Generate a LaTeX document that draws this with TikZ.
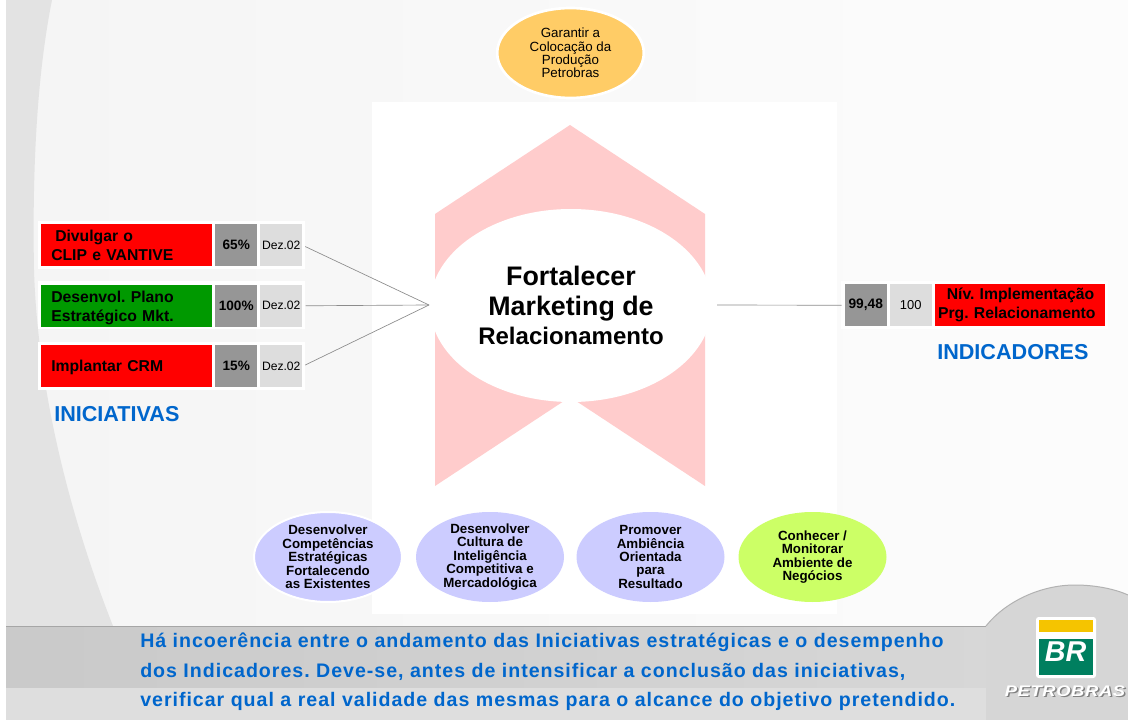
\documentclass[tikz,border=0pt]{standalone}
\usepackage{fontspec}
\setmainfont{Liberation Sans}
\usepackage{xcolor}
\usetikzlibrary{matrix,shapes.geometric}
\definecolor{planored}{HTML}{FF0000}
\definecolor{planogreen}{HTML}{009900}
\definecolor{cellgray}{HTML}{969696}
\definecolor{celllight}{HTML}{DDDDDD}
\definecolor{textblue}{HTML}{0066CC}
\definecolor{arrowpink}{HTML}{FFCCCC}
\definecolor{liloval}{HTML}{CCCCFF}
\definecolor{limeoval}{HTML}{CCFF66}
\definecolor{orangeoval}{HTML}{FFCC66}
\definecolor{logoyellow}{HTML}{F5C400}
\definecolor{logogreen}{HTML}{007F5F}
\newcommand{\lowline}[2]{\raisebox{-#1}[8pt][3pt]{#2}}
\tikzset{
  redcell/.style={fill=planored},
  greencell/.style={fill=planogreen},
  goal/.style={ellipse, minimum width=111pt, minimum height=67.5pt, inner xsep=0pt, inner ysep=-3pt,
               align=center, font=\bfseries\fontsize{10}{10.1}\selectfont},
  heading/.style={text=textblue, inner sep=0pt, font=\bfseries\fontsize{16.2}{18}\selectfont},
  plano/.style={matrix of nodes, inner sep=0pt, column sep=2.25pt, row sep=13.9pt,
                nodes={minimum height=31.5pt, minimum width=31.5pt, inner sep=0pt, anchor=center}},
  link/.style={draw=black!45, line width=.5pt}
}
\frenchspacing
\begin{document}
\begin{tikzpicture}[x=.75pt,y=-.75pt]
        \useasboundingbox (0,0) rectangle (1128,720);
        % background
        \fill[white] (0,0) rectangle (1128,720);
        \shade[left color=black!4, right color=black!1] (6,0) rectangle (1128,626);
        \fill[black!11] (6,0) -- (52,0) .. controls (38,70) and (32,160) .. (34,270)
              .. controls (38,400) and (75,530) .. (113,626) -- (6,626) -- cycle;
        \shade[left color=black!21, right color=black!15] (6,626) rectangle (1128,688);
        \fill[black!13] (6,688) rectangle (1128,720);
        \draw[black!35, line width=.75pt] (6,626) -- (986,626);
        \fill[black!16] (986,626) .. controls (1005,602) and (1040,585) .. (1075,585)
              .. controls (1095,585) and (1115,589) .. (1128,595) -- (1128,720) -- (986,720) -- cycle;
        \draw[black!30, line width=.75pt] (986,626) .. controls (1005,602) and (1040,585) .. (1075,585)
              .. controls (1095,585) and (1115,589) .. (1128,595);
        \fill[white] (372,102) rectangle (837,614);
        % chevron
        \fill[arrowpink] (570,125) -- (705,214) -- (705,486) -- (570,397) -- (435,486) -- (435,214) -- cycle;
        \node[ellipse, fill=white, minimum width=211.5pt, minimum height=144.75pt, inner sep=0pt,
              align=center, font=\bfseries\fontsize{20.1}{22}\selectfont] (objetivo) at (571,305.5)
              {Fortalecer\\Marketing de\\{\fontsize{18}{22}\selectfont Relacionamento}};
        \node[ellipse, fill=orangeoval, draw=white, line width=2pt, minimum width=110pt, minimum height=67.5pt,
              inner sep=0pt, align=center, font=\fontsize{10}{10.1}\selectfont] (garantir) at (570.5,53)
              {Garantir a\\Colocação da\\Produção\\Petrobras};
        % white plates behind the rows
        \foreach \y in {221,281.5,342}
          \fill[white] (38,\y) rectangle (305,\y+48);
        \fill[white] (841,281) rectangle (1108,329);
        \matrix (m) [plano, anchor=north west, at={(41,224)},
                     column 1/.style={nodes={text width=113.25pt, minimum width=128.25pt, inner xsep=7.5pt,
                                             align=left, font=\bfseries\fontsize{11.8}{14.3}\selectfont}},
                     column 2/.style={nodes={fill=cellgray, font=\bfseries\fontsize{10.2}{12}\selectfont}},
                     column 3/.style={nodes={fill=celllight, font=\fontsize{9.1}{12}\selectfont}}]
        {
          |[redcell]| {\hspace*{3pt}Divulgar o\\CLIP e VANTIVE} & 65\% & Dez.02 \\
          |[greencell]| {\lowline{1.8pt}{Desenvol. Plano}\\\lowline{1.8pt}{Estratégico Mkt.}} & 100\% & Dez.02 \\
          |[redcell]| {\lowline{1.5pt}{Implantar CRM}} & 15\% & Dez.02 \\
        };
        \matrix (n) [plano, anchor=north west, at={(844.5,284)},
                     column 1/.style={nodes={fill=cellgray, font=\bfseries\fontsize{10.3}{12}\selectfont}},
                     column 2/.style={nodes={fill=celllight, font=\fontsize{9.7}{12}\selectfont}},
                     column 3/.style={nodes={text width=122.5pt, minimum width=127.5pt, inner xsep=2.5pt,
                                             align=left, font=\bfseries\fontsize{11.8}{14.3}\selectfont}}]
        {
          99,48 & 100 & |[redcell]| {\hspace*{6.5pt}Nív. Implementação\\Prg. Relacionamento} \\
        };
        \coordinate (hubleft) at (429,305);
        \coordinate (hubright) at (717,305);
        \foreach \r in {1,2,3}
          \draw[link, shorten <=2.25pt] (m-\r-3.east) -- (hubleft);
        \draw[link, shorten >=2.25pt] (hubright) -- (n-1-1.west);
        \node[heading, anchor=west] (iniciativas) at (54,414.5) {INICIATIVAS};
        \node[heading, anchor=west] (indicadores) at (937,352.5) {INDICADORES};
        % goals below
        \node[goal, fill=liloval, draw=white, line width=1.5pt] (competencias) at (328,557)
              {Desenvolver\\Competências\\Estratégicas\\Fortalecendo\\as Existentes};
        \node[goal, fill=liloval] (cultura) at (490,557)
              {Desenvolver\\Cultura de\\Inteligência\\Competitiva e\\Mercadológica};
        \node[goal, fill=liloval] (ambiencia) at (650.5,557)
              {Promover\\Ambiência\\Orientada\\para\\Resultado};
        \node[goal, fill=limeoval] (monitorar) at (812.5,557)
              {Conhecer /\\Monitorar\\Ambiente de\\Negócios};
        % conclusion
        \node[anchor=west, inner sep=0pt, align=left, text=textblue,
              font=\bfseries\fontsize{14.7}{22.2}\selectfont\addfontfeature{LetterSpace=5}] (conclusao) at (140,672)
              {Há incoerência entre o andamento das Iniciativas estratégicas e o desempenho\\
               dos Indicadores. Deve-se, antes de intensificar a conclusão das  iniciativas,\\
               verificar qual a real validade das mesmas para o alcance do objetivo pretendido.};
        % logo
        \fill[white, rounded corners=2pt] (1036,617) rectangle (1096,678);
        \fill[logoyellow] (1039,620) rectangle (1093,632);
        \fill[logogreen] (1039,639) rectangle (1093,675);
        \node[text=white, inner sep=0pt, font=\bfseries\itshape\fontsize{21.5}{22}\selectfont] (br) at (1065.5,652) {BR};
        \node[text=black!50, inner sep=0pt, font=\bfseries\itshape\fontsize{11.5}{12}\selectfont\addfontfeature{FakeStretch=1.2,LetterSpace=4}] (petrobrassombra) at (1066.5,692.5) {PETROBRAS};
        \node[text=white, inner sep=0pt, font=\bfseries\itshape\fontsize{11.5}{12}\selectfont\addfontfeature{FakeStretch=1.2,LetterSpace=4}] (petrobras) at (1065,691) {PETROBRAS};
\end{tikzpicture}
\end{document}
